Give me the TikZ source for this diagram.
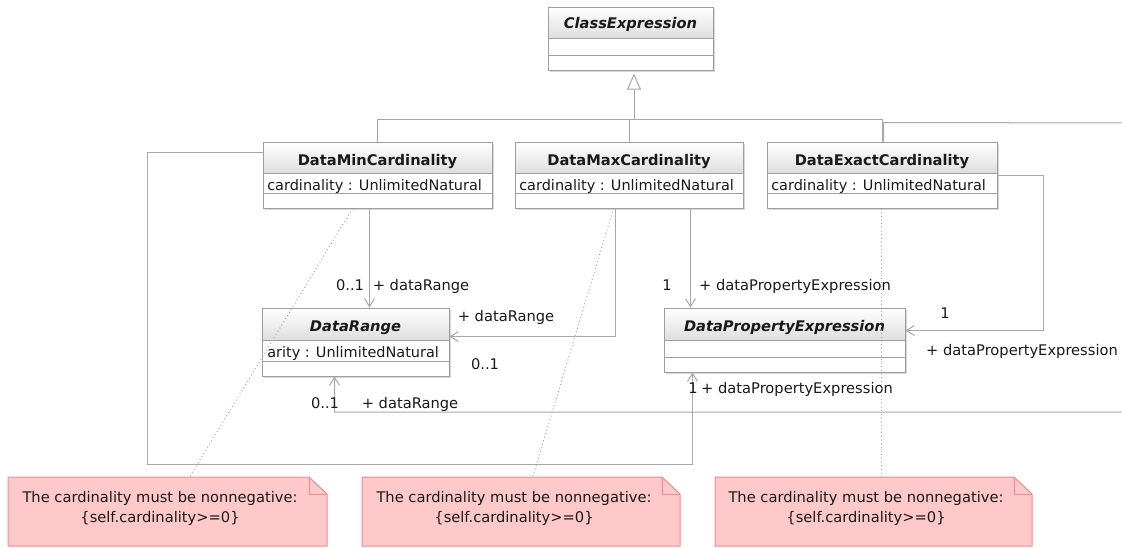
\documentclass[tikz,border=0pt]{standalone}
\usepackage{fontspec}
\setmainfont{DejaVu Sans}
\usetikzlibrary{arrows.meta,calc,fit}

\definecolor{edge}{RGB}{168,168,168}
\definecolor{boxline}{RGB}{158,158,158}
\definecolor{headbot}{RGB}{222,222,222}
\definecolor{shadowcol}{RGB}{215,215,215}
\definecolor{notefill}{RGB}{255,201,201}
\definecolor{noteline}{RGB}{240,140,140}
\definecolor{ink}{RGB}{25,25,25}

\tikzset{
  every node/.style={font=\fontsize{11}{13}\selectfont, text=ink},
  conn/.style={draw=edge, line width=0.75pt},
  assoc/.style={conn, -{Straight Barb[length=6pt, width=7.5pt]}},
  gen/.style={conn, -{Triangle[open, length=12pt, width=10.5pt, fill=white]}},
  anchorline/.style={draw=edge, line width=0.75pt, dotted},
  title/.style={anchor=base, font=\fontsize{11}{13}\selectfont\bfseries},
  abstitle/.style={anchor=base, font=\fontsize{11}{13}\selectfont\bfseries\itshape},
  attr/.style={anchor=base west, inner sep=0pt, font=\fontsize{10.85}{13}\selectfont},
  role/.style={anchor=base},
}

% class box: name, x1, y1, x2, y2, end of header, end of attribute row
\newcommand\umlbox[7]{%
  \fill[shadowcol] (#2+2,#3+2) rectangle (#4+2,#5+2);
  \fill[white] (#2,#3) rectangle (#4,#5);
  \shade[top color=white, bottom color=headbot] (#2,#3) rectangle (#4,#6);
  \draw[boxline, line width=0.75pt] (#2,#6) -- (#4,#6) (#2,#7) -- (#4,#7);
  \node[draw=boxline, line width=0.75pt, inner sep=0pt, fit={(#2,#3) (#4,#5)}] (#1) {};
}

% note with a folded corner: name, x1, y1, x2, y2
\newcommand\umlnote[5]{%
  \filldraw[fill=notefill, draw=noteline, line width=0.75pt]
    (#2,#3) -- (#4-18,#3) -- (#4,#3+17) -- (#4,#5) -- (#2,#5) -- cycle;
  \draw[noteline, line width=0.75pt] (#4-18,#3) -- (#4-18,#3+17) -- (#4,#3+17);
  \node[inner sep=0pt, fit={(#2,#3) (#4,#5)}] (#1) {};
}

\begin{document}
\begin{tikzpicture}[x=0.75pt, y=-0.75pt]
\useasboundingbox (0,0) rectangle (1122,547);

% ---- classes ----
\umlbox{ce}{548}{7}{713}{70}{38}{55}
\node[abstitle] at (630.5,28) {ClassExpression};

\umlbox{dmin}{263}{142}{492}{208}{173}{193}
\node[title] at (377.5,165) {DataMinCardinality};
\node[attr] at (267,190) {cardinality : UnlimitedNatural};

\umlbox{dmax}{515}{142}{743}{208}{173}{193}
\node[title] at (629,165) {DataMaxCardinality};
\node[attr] at (519,190) {cardinality : UnlimitedNatural};

\umlbox{dexact}{767}{142}{997}{208}{173}{193}
\node[title] at (882,165) {DataExactCardinality};
\node[attr] at (771,190) {cardinality : UnlimitedNatural};

\umlbox{dr}{262}{308}{449}{376}{340}{361}
\node[abstitle] at (355.5,331) {DataRange};
\node[attr] at (267,357) {arity : UnlimitedNatural};

\umlbox{dpe}{664}{308}{905}{372}{340}{357}
\node[abstitle] at (784.5,331) {DataPropertyExpression};

% ---- notes ----
\umlnote{n1}{8}{477}{327}{546}
\node[align=center] at (160,508) {The cardinality must be nonnegative:\\[2pt]\{self.cardinality>=0\}};
\umlnote{n2}{362}{477}{680}{546}
\node[align=center] at (514,508) {The cardinality must be nonnegative:\\[2pt]\{self.cardinality>=0\}};
\umlnote{n3}{715}{477}{1032}{546}
\node[align=center] at (866,508) {The cardinality must be nonnegative:\\[2pt]\{self.cardinality>=0\}};

% ---- generalization ----
\coordinate (gj) at (634,119);
\draw[conn] (dmin.north) |- (gj);
\draw[conn] (dmax.north) |- (gj);
\draw[conn] (dexact.north) |- (gj);
\draw[gen, shorten >=2.25pt] (gj) -- (gj |- ce.south);

% ---- associations ----
\draw[assoc] ($(dmin.south west)+(107,0)$) -- ($(dr.north west)+(108,0)$);
\draw[assoc] ($(dmax.south west)+(101,0)$) |- ($(dr.north east)+(0,29)$);
\draw[assoc] ($(dmax.south west)+(176,0)$) -- ($(dpe.north west)+(27,0)$);
\draw[assoc] (dexact.east) -- ++(46,0) |- ($(dpe.north east)+(0,23)$);
\draw[assoc] ($(dmin.north west)+(0,11)$) -- ++(-115,0) -- ++(0,312) -| ($(dpe.south west)+(29,0)$);
\begin{scope}
  \clip (0,0) rectangle (1122,547);
  \draw[assoc] ($(dexact.north west)+(117,0)$) -- ++(0,-19) -- (1140,123) -- (1140,412) -| ($(dr.south west)+(73,0)$);
\end{scope}

% ---- role names and multiplicities ----
\node[role] at (350,290) {0..1};
\node[role] at (421,290) {+ dataRange};
\node[role] at (506,321) {+ dataRange};
\node[role] at (485,369) {0..1};
\node[role] at (325,408) {0..1};
\node[role] at (410,408) {+ dataRange};
\node[role] at (667,290) {1};
\node[role] at (795,290) {+ dataPropertyExpression};
\node[role] at (945,318) {1};
\node[role] at (1022,355) {+ dataPropertyExpression};
\node[role] at (693,393) {1};
\node[role] at (797,393) {+ dataPropertyExpression};

% ---- note anchors ----
\draw[anchorline] ($(dmin.south west)+(90,0)$) -- ($(n1.north west)+(182,0)$);
\draw[anchorline] ($(dmax.south west)+(99,0)$) -- ($(n2.north west)+(171,0)$);
\draw[anchorline] ($(dexact.south west)+(115,0)$) -- ($(n3.north west)+(167,0)$);
\end{tikzpicture}
\end{document}
